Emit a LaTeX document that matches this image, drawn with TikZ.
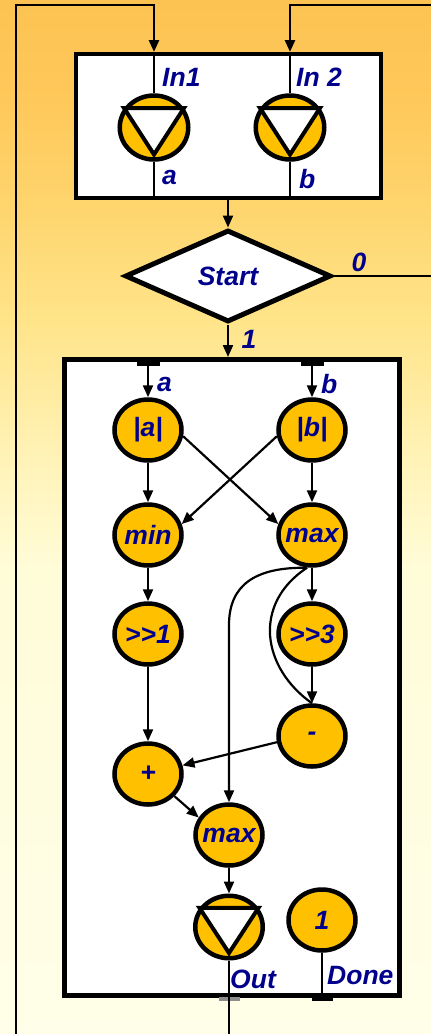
\documentclass[tikz,border=0pt]{standalone}
\usepackage{fontspec}
\setmainfont{Liberation Sans}
\usetikzlibrary{shapes.geometric,arrows.meta}

\definecolor{nodefill}{RGB}{255,192,0}
\definecolor{labelblue}{RGB}{0,0,140}
\definecolor{bgA}{RGB}{255,254,232}
\definecolor{bgB}{RGB}{255,252,216}
\definecolor{bgC}{RGB}{255,242,180}
\definecolor{bgD}{RGB}{255,228,137}
\definecolor{bgE}{RGB}{254,212,108}
\definecolor{bgF}{RGB}{255,200,90}
\definecolor{bgG}{RGB}{252,195,82}

% background: warm orange at the top fading to cream at the bottom
\pgfdeclareverticalshading{bgshade}{100bp}{%
  color(0bp)=(bgA); color(25bp)=(bgA); color(47.44bp)=(bgB);
  color(53.24bp)=(bgC); color(59.53bp)=(bgD); color(65.33bp)=(bgE);
  color(70.16bp)=(bgF); color(75bp)=(bgG); color(100bp)=(bgG)}

\newcommand\lblfont{\fontsize{26.5}{31}\selectfont\bfseries\itshape}
\newcommand\zwbox[1]{\makebox[0pt]{#1}}

\begin{document}
\begin{tikzpicture}[x=1pt,y=-1pt,
  >={Triangle[length=12pt,width=10pt]},
  wire/.style={line width=2.2pt},
  fb/.style={line width=2.6pt},
  frame/.style={rectangle, draw, fill=white, inner sep=0pt},
  iocirc/.style={ellipse, draw, line width=4.5pt, fill=nodefill,
    minimum width=68.5pt, minimum height=64pt, inner sep=0pt},
  tri/.style={draw, line width=4pt, fill=white, line join=miter},
  op/.style={ellipse, draw, line width=4.5pt, fill=nodefill,
    minimum width=67pt, minimum height=61pt, inner sep=0pt,
    text=labelblue, font=\lblfont},
  dia/.style={diamond, draw, line width=5pt, fill=white,
    minimum width=206pt, minimum height=92pt, inner sep=0pt,
    text=labelblue, font=\lblfont},
  lbl/.style={text=labelblue, font=\lblfont, inner sep=0pt, anchor=west}]

\useasboundingbox (0,0) rectangle (431,1034);
\shade[shading=bgshade] (0,0) rectangle (431,1034);

% ---- input block ----
\node[frame, line width=4pt, minimum width=305pt, minimum height=144pt] (topbox) at (228,126) {};
\node[iocirc] (in1) at (154,127.5) {};
\node[iocirc] (in2) at (290,127.5) {};
\foreach \n in {in1,in2}{
  \draw[wire] (\n |- topbox.north) -- (\n.north);
  \draw[wire] (\n.south) -- (\n |- topbox.south);
  \draw[tri] (\n.147) -- (\n.33) -- ([yshift=-27pt]\n.center) -- cycle;
}
\node[lbl] (lin1) at (162,77) {In1};
\node[lbl] (lin2) at (296,77) {In 2};
\node[lbl] (lina) at (162,177.5) {a};
\node[lbl] (linb) at (299,179) {b};

% ---- feedback lines ----
\coordinate (fbL0) at (16,1034);
\coordinate (fbL1) at (16,5);
\coordinate (fbR) at (431,5);
\draw[fb,->] (fbL0) -- (fbL1) -| (in1 |- topbox.north);
\draw[fb,->] (fbR) -| (in2 |- topbox.north);

% ---- start decision ----
\node[dia] (start) at (228,276) {Start};
\draw[wire,->] (topbox.south) -- (start.north);
\coordinate (zeroEnd) at (431,276);
\draw[wire] (start.east) -- (zeroEnd);
\node[lbl, anchor=center] (lzero) at (359,262) {0};

% ---- processing block ----
\node[frame, line width=5pt, minimum width=335pt, minimum height=636pt] (inner) at (232,677.5) {};
\draw[wire,->] (start.south) -- (start.south |- inner.north);
\node[lbl, anchor=center] (lone) at (249,339) {1};

\coordinate (pa) at (148,360);
\coordinate (pb) at (312,360);
\fill (136.5,360) rectangle (159.5,365.5);
\fill (300.5,360) rectangle (323.5,365.5);
\fill[black!45] (219,997) rectangle (240,1001);
\fill (312,995.5) rectangle (333,1001);

\node[op] (absa) at (148,430) {\zwbox{|a|}};
\node[op] (absb) at (312,430) {\zwbox{|b|}};
\node[op] (min)  at (148,535) {\zwbox{min}};
\node[op] (max1) at (312,535) {\zwbox{max}};
\node[op] (shr1) at (148,634) {\zwbox{{>}{>}1}};
\node[op] (shr3) at (312,634) {\zwbox{{>}{>}3}};
\node[op] (minus) at (312,736) {\zwbox{-}};
\node[op] (plus) at (148,774) {\zwbox{+}};
\node[op] (max2) at (229,835) {\zwbox{max}};
\node[iocirc, minimum width=67.5pt, minimum height=62.5pt] (out) at (229,927) {};
\draw[tri] (out.147) -- (out.33) -- ([yshift=-26pt]out.center) -- cycle;
\node[op] (done) at (322,920) {\zwbox{1}};

\node[lbl] (la) at (157,384.5) {a};
\node[lbl] (lb) at (321,384) {b};
\node[lbl] (lout) at (230,979) {Out};
\node[lbl] (ldone) at (327,976) {Done};

\draw[wire,->] (pa) -- (absa.north);
\draw[wire,->] (pb) -- (absb.north);
\draw[wire,->] (absa.south) -- (min.north);
\draw[wire,->] (absb.south) -- (max1.north);
\draw[wire,->] (absa.-10) -- (max1.162);
\draw[wire,->] (absb.190) -- (min.18);
\draw[wire,->] (min.south) -- (shr1.north);
\draw[wire,->] (max1.south) -- (shr3.north);
\draw[wire,->] (shr1.south) -- (plus.north);
\draw[wire,->] (shr3.south) -- (minus.north);
\draw[wire] ([xshift=-5pt]max1.south) .. controls (252,604) and (262,668) .. (minus.north);
\coordinate (bend) at (229,625);
\draw[wire,->] ([xshift=-5pt]max1.south) .. controls (255,567) and (229,585) .. (bend) -- (max2.north);
\draw[wire,->] (minus.190) -- (plus.14);
\draw[wire,->] (plus.-40) -- (max2.150);
\draw[wire,->] (max2.south) -- (out.north);
\coordinate (outEnd) at (229,1034);
\draw[fb] (out.south) -- (outEnd);
\draw[wire] (done.south) -- (done.south |- inner.south);

\end{tikzpicture}
\end{document}
